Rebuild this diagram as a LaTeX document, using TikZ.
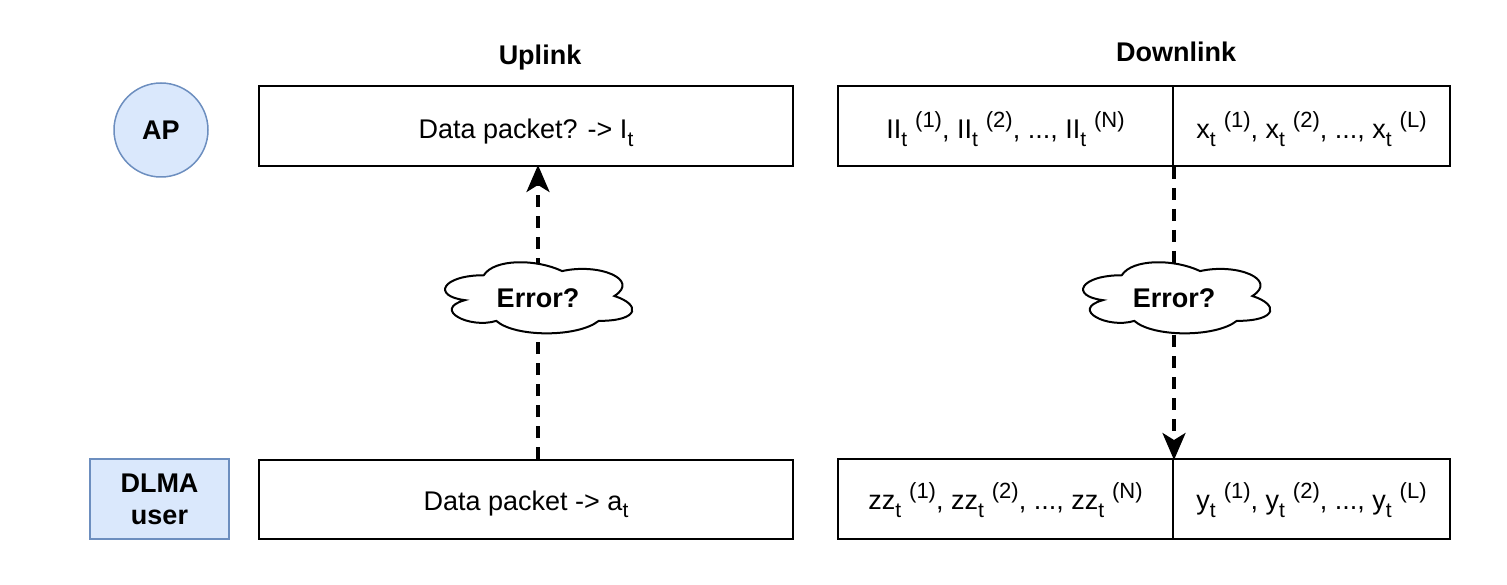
\documentclass[tikz,border=0pt]{standalone}
\usepackage{fontspec}
\setmainfont{Liberation Sans}
\usetikzlibrary{arrows.meta}
\definecolor{apfill}{HTML}{DAE8FC}
\definecolor{apline}{HTML}{6C8EBF}
\newcommand\lsub[1]{\raisebox{-0.28em}{\fontsize{21}{22}\selectfont #1}}
\newcommand\lsup[1]{\hspace{8pt}\raisebox{0.42em}{\fontsize{22}{23}\selectfont #1}}
% drawio-like cloud outline in a box of 209 x 83, top-left corner at #1
\newcommand\errcloudpath[1]{%
  \begin{scope}[shift={#1}]
    \path[draw=black,line width=2pt,fill=white]
      (52.25,20.75) .. controls (10.45,20.75) and (0,41.5) .. (33.44,45.65)
      .. controls (0,54.78) and (37.62,74.7) .. (64.79,66.4)
      .. controls (83.6,83) and (146.3,83) .. (167.2,66.4)
      .. controls (209,66.4) and (209,49.8) .. (182.88,41.5)
      .. controls (209,24.9) and (167.2,8.3) .. (130.63,16.6)
      .. controls (104.5,4.15) and (62.7,4.15) .. (52.25,20.75) -- cycle;
  \end{scope}}
\begin{document}
\begin{tikzpicture}[x=1pt,y=-1pt,
  every node/.style={font=\fontsize{27}{31}\selectfont},
  cell/.style={draw=black,line width=2pt,minimum height=80pt,inner sep=0pt,fill=white},
  toprow/.style={text height=26pt,text depth=0pt},
  botrow/.style={text height=21pt,text depth=0pt},
  titletxt/.style={font=\bfseries\fontsize{27}{31}\selectfont},
  errtxt/.style={inner sep=0pt,font=\bfseries\fontsize{27}{31}\selectfont},
  link/.style={line width=3.5pt,dash pattern=on 12pt off 9pt,-{Stealth[length=27pt,width=23pt,inset=7pt,sep=-2pt]}}
]
\useasboundingbox (0,0) rectangle (1507,585);
% titles
\node[titletxt] (tup) at (540,58) {Uplink};
\node[titletxt] (tdown) at (1176,52) {Downlink};
% actors
\node[circle,draw=apline,fill=apfill,line width=1.5pt,minimum size=94pt,inner sep=0pt,font=\bfseries\fontsize{27}{31}\selectfont] (ap) at (161,130) {AP};
\node[rectangle,draw=apline,fill=apfill,line width=1.5pt,minimum width=139pt,minimum height=80pt,inner sep=0pt,align=center,font=\bfseries\fontsize{27}{32}\selectfont] (dlma) at (159.5,499) {DLMA\\user};
% uplink boxes
\node[cell,toprow,minimum width=534pt] (ub) at (526,126) {Data packet? -> I\lsub{t}};
\node[cell,botrow,minimum width=534pt,minimum height=79pt] (lb) at (526,499.5) {Data packet -> a\lsub{t}};
% downlink boxes
\node[cell,toprow,minimum width=335pt] (dtl) at (1005.5,126) {II\lsub{t}\lsup{(1)}, II\lsub{t}\lsup{(2)}, ..., II\lsub{t}\lsup{(N)}};
\node[cell,toprow,minimum width=277pt] (dtr) at (1311.5,126) {x\lsub{t}\lsup{(1)}, x\lsub{t}\lsup{(2)}, ..., x\lsub{t}\lsup{(L)}};
\node[cell,botrow,minimum width=335pt] (dbl) at (1005.5,499) {zz\lsub{t}\lsup{(1)}, zz\lsub{t}\lsup{(2)}, ..., zz\lsub{t}\lsup{(N)}};
\node[cell,botrow,minimum width=277pt] (dbr) at (1311.5,499) {y\lsub{t}\lsup{(1)}, y\lsub{t}\lsup{(2)}, ..., y\lsub{t}\lsup{(L)}};
% cloud centres
\coordinate (cl) at (538,298);
\coordinate (cr) at (1174,298);
% arrows
\draw[link] (lb.north -| cl) -- (ub.south -| cl);
\draw[link] (dtl.south east) -- (dbl.north east);
% clouds on top
\errcloudpath{(431.5,254.5)}
\errcloudpath{(1069.5,254.5)}
\node[errtxt] (errl) at (cl) {Error?};
\node[errtxt] (errr) at (cr) {Error?};
\end{tikzpicture}
\end{document}
